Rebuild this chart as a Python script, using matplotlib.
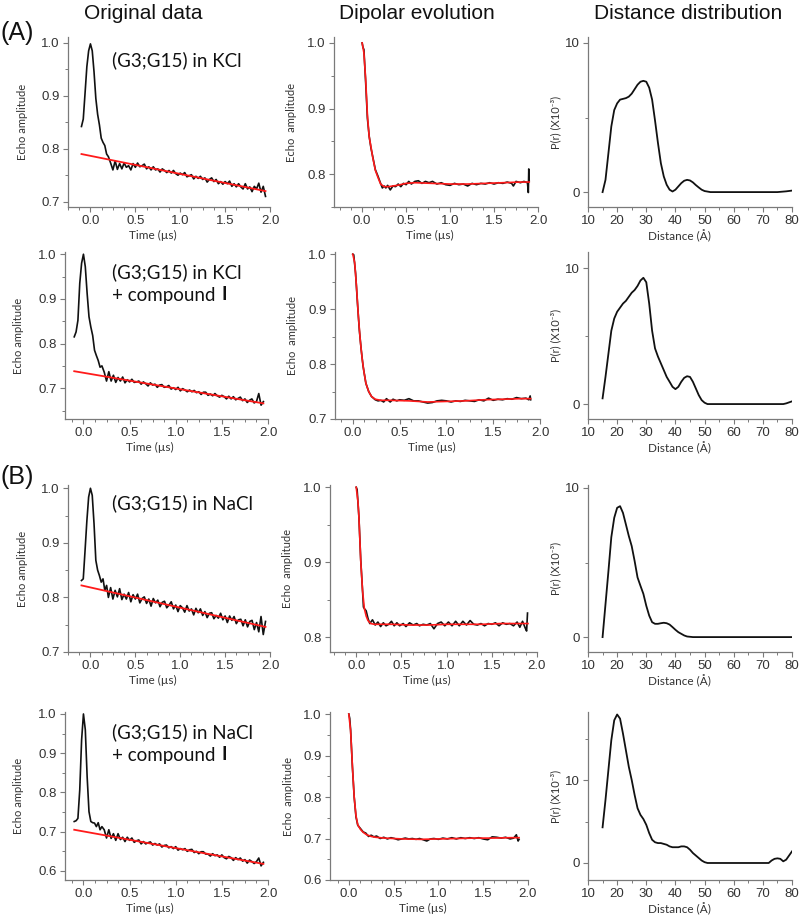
import numpy as np
import matplotlib
matplotlib.use('Agg')
import matplotlib.pyplot as plt
from matplotlib.ticker import MultipleLocator, AutoMinorLocator

plt.rcParams['font.family'] = ['Liberation Sans', 'DejaVu Sans']

# ---- original data: echo peak part (t = -0.10 .. 0.20, step 0.02) ----
peak_A1 = [0.842, 0.856, 0.905, 0.955, 0.985, 0.998, 0.985, 0.945, 0.895, 0.865, 0.845, 0.820, 0.812, 0.806, 0.790, 0.785]
peak_A2 = [0.815, 0.826, 0.852, 0.935, 0.980, 1.000, 0.972, 0.912, 0.860, 0.837, 0.818, 0.785, 0.773, 0.762, 0.747, 0.750]
peak_B1 = [0.831, 0.834, 0.886, 0.940, 0.984, 1.000, 0.987, 0.935, 0.868, 0.850, 0.840, 0.828, 0.834, 0.813, 0.822, 0.800]
peak_B2 = [0.726, 0.728, 0.734, 0.807, 0.934, 1.000, 0.960, 0.840, 0.751, 0.726, 0.723, 0.722, 0.713, 0.723, 0.705, 0.713]

# ---- original data: tail part (t = 0.225 .. 1.95, step 0.025) ----
tail_A1 = [0.773, 0.760, 0.777, 0.761, 0.772, 0.762, 0.773, 0.765, 0.768, 0.760,
           0.772, 0.765, 0.773, 0.766, 0.768, 0.771, 0.762, 0.766, 0.760, 0.766,
           0.760, 0.762, 0.756, 0.762, 0.759, 0.755, 0.759, 0.754, 0.759, 0.753,
           0.750, 0.754, 0.751, 0.755, 0.747, 0.749, 0.751, 0.743, 0.748, 0.744,
           0.748, 0.742, 0.745, 0.737, 0.742, 0.745, 0.738, 0.742, 0.734, 0.738,
           0.733, 0.738, 0.734, 0.739, 0.729, 0.734, 0.728, 0.734, 0.728, 0.724,
           0.734, 0.724, 0.728, 0.719, 0.729, 0.724, 0.735, 0.718, 0.729, 0.710]
tail_A2 = [0.736, 0.716, 0.737, 0.716, 0.729, 0.713, 0.724, 0.716, 0.725, 0.712,
           0.719, 0.714, 0.720, 0.713, 0.714, 0.716, 0.709, 0.714, 0.710, 0.705,
           0.712, 0.707, 0.709, 0.702, 0.707, 0.708, 0.702, 0.703, 0.706, 0.698,
           0.701, 0.697, 0.702, 0.694, 0.699, 0.696, 0.692, 0.696, 0.692, 0.695,
           0.690, 0.692, 0.686, 0.691, 0.691, 0.684, 0.687, 0.683, 0.688, 0.683,
           0.680, 0.684, 0.681, 0.676, 0.682, 0.676, 0.681, 0.674, 0.677, 0.680,
           0.672, 0.676, 0.668, 0.673, 0.676, 0.667, 0.670, 0.688, 0.662, 0.670]
tail_B1 = [0.818, 0.797, 0.813, 0.801, 0.816, 0.796, 0.806, 0.797, 0.809, 0.792,
           0.805, 0.797, 0.806, 0.790, 0.798, 0.801, 0.789, 0.797, 0.784, 0.798,
           0.790, 0.795, 0.783, 0.791, 0.793, 0.781, 0.786, 0.792, 0.779, 0.786,
           0.774, 0.785, 0.781, 0.773, 0.785, 0.775, 0.779, 0.768, 0.780, 0.772,
           0.779, 0.767, 0.774, 0.763, 0.771, 0.772, 0.761, 0.767, 0.762, 0.771,
           0.759, 0.766, 0.754, 0.766, 0.758, 0.765, 0.752, 0.759, 0.760, 0.748,
           0.759, 0.746, 0.756, 0.758, 0.741, 0.754, 0.737, 0.765, 0.732, 0.756]
tail_B2 = [0.705, 0.684, 0.705, 0.683, 0.695, 0.678, 0.695, 0.680, 0.686, 0.675,
           0.686, 0.678, 0.684, 0.673, 0.677, 0.679, 0.669, 0.675, 0.669, 0.672,
           0.674, 0.666, 0.670, 0.666, 0.669, 0.661, 0.665, 0.666, 0.659, 0.662,
           0.657, 0.662, 0.653, 0.657, 0.654, 0.657, 0.650, 0.654, 0.655, 0.647,
           0.650, 0.644, 0.649, 0.649, 0.643, 0.643, 0.638, 0.644, 0.639, 0.641,
           0.635, 0.641, 0.634, 0.631, 0.637, 0.634, 0.627, 0.634, 0.629, 0.633,
           0.625, 0.629, 0.620, 0.628, 0.624, 0.619, 0.624, 0.633, 0.613, 0.622]

# background fit lines (start, end) at t = -0.1 and 1.95
bg_t = [-0.1, 1.95]
bg_A1 = [0.790, 0.720]
bg_A2 = [0.738, 0.666]
bg_B1 = [0.822, 0.746]
bg_B2 = [0.705, 0.618]

# ---- dipolar evolution (t, value) ----
dip_A1 = [(0.0, 1.0), (0.01, 0.993), (0.02, 0.99), (0.04, 0.94), (0.06, 0.885), (0.08, 0.858), (0.10, 0.84),
          (0.12, 0.827), (0.15, 0.807), (0.18, 0.797), (0.21, 0.786), (0.23, 0.779), (0.25, 0.782), (0.27, 0.779),
          (0.29, 0.783), (0.32, 0.776), (0.35, 0.782), (0.38, 0.781), (0.41, 0.785), (0.44, 0.781), (0.47, 0.786),
          (0.50, 0.784), (0.53, 0.789), (0.56, 0.785), (0.60, 0.789), (0.64, 0.790), (0.68, 0.786), (0.72, 0.789),
          (0.76, 0.787), (0.80, 0.789), (0.85, 0.785), (0.90, 0.787), (0.95, 0.784), (1.00, 0.783), (1.05, 0.786),
          (1.10, 0.784), (1.15, 0.785), (1.20, 0.782), (1.25, 0.786), (1.30, 0.784), (1.35, 0.786), (1.40, 0.785),
          (1.45, 0.787), (1.50, 0.785), (1.55, 0.787), (1.60, 0.786), (1.65, 0.788), (1.70, 0.786), (1.72, 0.782),
          (1.75, 0.789), (1.80, 0.787), (1.84, 0.789), (1.88, 0.787), (1.89, 0.772), (1.895, 0.808), (1.90, 0.790)]
fit_A1 = [(0.0, 1.0), (0.02, 0.985), (0.04, 0.945), (0.06, 0.89), (0.08, 0.857), (0.10, 0.842), (0.12, 0.826),
          (0.15, 0.806), (0.18, 0.795), (0.21, 0.785), (0.25, 0.781), (0.30, 0.781), (0.40, 0.783), (0.50, 0.786),
          (0.60, 0.787), (0.80, 0.786), (1.00, 0.785), (1.20, 0.785), (1.40, 0.786), (1.60, 0.787), (1.80, 0.788),
          (1.90, 0.788)]
dip_A2 = [(0.0, 1.0), (0.01, 0.999), (0.03, 0.965), (0.05, 0.911), (0.07, 0.862), (0.09, 0.826), (0.11, 0.796),
          (0.14, 0.765), (0.17, 0.750), (0.20, 0.741), (0.24, 0.735), (0.27, 0.733), (0.30, 0.734), (0.33, 0.731),
          (0.36, 0.737), (0.40, 0.731), (0.43, 0.736), (0.47, 0.733), (0.50, 0.735), (0.55, 0.734), (0.60, 0.737),
          (0.65, 0.733), (0.70, 0.733), (0.75, 0.731), (0.80, 0.729), (0.85, 0.730), (0.90, 0.733), (0.95, 0.734),
          (1.00, 0.733), (1.05, 0.731), (1.10, 0.733), (1.15, 0.732), (1.20, 0.734), (1.25, 0.733), (1.30, 0.732),
          (1.35, 0.735), (1.40, 0.733), (1.45, 0.738), (1.50, 0.734), (1.55, 0.736), (1.60, 0.735), (1.65, 0.737),
          (1.70, 0.736), (1.75, 0.739), (1.80, 0.737), (1.85, 0.738), (1.88, 0.735), (1.895, 0.742), (1.90, 0.735)]
fit_A2 = [(0.0, 1.0), (0.02, 0.985), (0.04, 0.94), (0.06, 0.886), (0.08, 0.843), (0.10, 0.81), (0.12, 0.785),
          (0.14, 0.765), (0.17, 0.750), (0.20, 0.741), (0.24, 0.736), (0.30, 0.734), (0.40, 0.734), (0.60, 0.733),
          (0.80, 0.731), (1.00, 0.732), (1.20, 0.733), (1.40, 0.735), (1.60, 0.736), (1.80, 0.737), (1.90, 0.737)]
dip_B1 = [(0.0, 1.0), (0.01, 0.997), (0.03, 0.96), (0.05, 0.903), (0.07, 0.862), (0.08, 0.84), (0.09, 0.838),
          (0.11, 0.835), (0.13, 0.825), (0.15, 0.818), (0.18, 0.823), (0.21, 0.816), (0.24, 0.820), (0.27, 0.814),
          (0.30, 0.819), (0.33, 0.815), (0.36, 0.817), (0.39, 0.821), (0.42, 0.815), (0.45, 0.819), (0.48, 0.815),
          (0.52, 0.818), (0.55, 0.814), (0.59, 0.819), (0.63, 0.816), (0.67, 0.818), (0.70, 0.815), (0.74, 0.817),
          (0.78, 0.816), (0.82, 0.818), (0.86, 0.811), (0.90, 0.818), (0.94, 0.820), (0.98, 0.815), (1.02, 0.820),
          (1.06, 0.815), (1.10, 0.821), (1.14, 0.815), (1.18, 0.821), (1.22, 0.816), (1.26, 0.822), (1.30, 0.817),
          (1.34, 0.816), (1.38, 0.818), (1.42, 0.815), (1.46, 0.818), (1.50, 0.817), (1.54, 0.819), (1.58, 0.815),
          (1.62, 0.819), (1.66, 0.817), (1.70, 0.818), (1.74, 0.815), (1.78, 0.820), (1.81, 0.813), (1.84, 0.821),
          (1.87, 0.812), (1.885, 0.808), (1.895, 0.832)]
fit_B1 = [(0.0, 1.0), (0.02, 0.98), (0.03, 0.96), (0.05, 0.902), (0.07, 0.862), (0.09, 0.838), (0.11, 0.828),
          (0.13, 0.822), (0.16, 0.818), (0.20, 0.817), (0.40, 0.817), (0.60, 0.816), (0.80, 0.816), (1.00, 0.817),
          (1.20, 0.817), (1.40, 0.817), (1.60, 0.818), (1.80, 0.818), (1.90, 0.818)]
dip_B2 = [(0.0, 1.0), (0.01, 0.99), (0.02, 0.962), (0.04, 0.873), (0.06, 0.80), (0.08, 0.752), (0.10, 0.732),
          (0.13, 0.724), (0.16, 0.716), (0.19, 0.713), (0.22, 0.705), (0.25, 0.708), (0.28, 0.704), (0.31, 0.706),
          (0.35, 0.700), (0.39, 0.703), (0.43, 0.699), (0.47, 0.702), (0.51, 0.700), (0.55, 0.697), (0.59, 0.699),
          (0.63, 0.701), (0.67, 0.699), (0.71, 0.700), (0.75, 0.698), (0.79, 0.700), (0.83, 0.697), (0.87, 0.694),
          (0.91, 0.699), (0.95, 0.700), (1.00, 0.698), (1.05, 0.701), (1.10, 0.699), (1.15, 0.702), (1.20, 0.699),
          (1.25, 0.702), (1.30, 0.700), (1.35, 0.702), (1.40, 0.700), (1.45, 0.702), (1.50, 0.699), (1.55, 0.697),
          (1.60, 0.704), (1.65, 0.703), (1.70, 0.701), (1.75, 0.703), (1.80, 0.699), (1.84, 0.701), (1.87, 0.709),
          (1.89, 0.694), (1.90, 0.698)]
fit_B2 = [(0.0, 1.0), (0.02, 0.96), (0.04, 0.875), (0.06, 0.80), (0.08, 0.755), (0.10, 0.733), (0.13, 0.722),
          (0.16, 0.715), (0.20, 0.709), (0.25, 0.705), (0.30, 0.703), (0.40, 0.701), (0.60, 0.699), (0.80, 0.698),
          (1.00, 0.699), (1.20, 0.700), (1.40, 0.701), (1.60, 0.701), (1.80, 0.702), (1.90, 0.702)]

# ---- distance distributions (r in A, P(r) x10^-3) ----
pr_A1 = [(15, 0.0), (16, 0.82), (17, 2.6), (18, 4.4), (19, 5.5), (20, 5.95), (21, 6.2), (22, 6.25), (23, 6.3),
         (24, 6.4), (25, 6.6), (26, 6.9), (27, 7.2), (28, 7.4), (29, 7.46), (30, 7.4), (31, 7.0), (32, 6.2),
         (33, 4.8), (34, 3.3), (35, 1.94), (36, 1.05), (37, 0.49), (38, 0.16), (39, 0.04), (40, 0.16), (41, 0.38),
         (42, 0.6), (43, 0.76), (44, 0.82), (45, 0.78), (46, 0.65), (47, 0.47), (48, 0.31), (49, 0.16), (50, 0.07),
         (52, 0.0), (75, 0.0), (78, 0.05), (80, 0.1)]
pr_A2 = [(15, 0.42), (16, 2.0), (17, 3.7), (18, 5.4), (19, 6.3), (20, 6.8), (21, 7.1), (22, 7.4), (23, 7.6),
         (24, 7.9), (25, 8.2), (26, 8.4), (27, 8.7), (28, 9.1), (29, 9.3), (30, 8.97), (31, 7.4), (32, 5.4),
         (33, 4.1), (34, 3.5), (35, 3.0), (36, 2.5), (37, 2.0), (38, 1.64), (39, 1.27), (40, 1.1), (41, 1.27),
         (42, 1.64), (43, 1.93), (44, 2.05), (45, 2.0), (46, 1.64), (47, 1.15), (48, 0.66), (49, 0.29), (50, 0.1),
         (51, 0.0), (77, 0.0), (78, 0.05), (80, 0.2)]
pr_B1 = [(15, 0.0), (16, 2.2), (17, 4.4), (18, 6.7), (19, 8.0), (20, 8.67), (21, 8.78), (22, 8.33), (23, 7.56),
         (24, 6.78), (25, 6.1), (26, 5.1), (27, 4.0), (28, 3.44), (29, 2.9), (30, 2.1), (31, 1.44), (32, 1.0),
         (33, 0.89), (34, 0.89), (35, 0.93), (36, 0.96), (37, 0.93), (38, 0.84), (39, 0.67), (40, 0.49), (41, 0.33),
         (42, 0.22), (43, 0.11), (44, 0.04), (46, 0.0), (80, 0.0)]
pr_B2 = [(15, 4.3), (16, 7.6), (17, 11.2), (18, 14.8), (19, 17.2), (20, 17.9), (21, 17.4), (22, 15.6), (23, 13.6),
         (24, 11.6), (25, 10.0), (26, 8.2), (27, 6.6), (28, 5.8), (29, 5.3), (30, 4.6), (31, 3.6), (32, 2.8),
         (33, 2.5), (34, 2.4), (35, 2.4), (36, 2.3), (37, 2.2), (38, 2.0), (39, 1.9), (40, 1.9), (41, 1.9), (42, 2.0),
         (43, 2.0), (44, 1.9), (45, 1.6), (46, 1.2), (47, 0.9), (48, 0.6), (49, 0.3), (50, 0.1), (51, 0.0), (72, 0.0),
         (73, 0.3), (74, 0.5), (75, 0.56), (76, 0.5), (77, 0.2), (78, 0.4), (79, 0.9), (80, 1.4)]

sample_lines = [("(G3;G15) in KCl", False), ("(G3;G15) in KCl", True),
                ("(G3;G15) in NaCl", False), ("(G3;G15) in NaCl", True)]

peaks = [peak_A1, peak_A2, peak_B1, peak_B2]
tails = [tail_A1, tail_A2, tail_B1, tail_B2]
bgs = [bg_A1, bg_A2, bg_B1, bg_B2]
dips = [dip_A1, dip_A2, dip_B1, dip_B2]
fits = [fit_A1, fit_A2, fit_B1, fit_B2]
prs = [pr_A1, pr_A2, pr_B1, pr_B2]

#---layout (pixels)-------------------------------------------------------#
rows_px = [(37, 207), (252, 419), (485, 652), (712, 880)]
left_px = [(68, 270), (65, 268), (68, 270), (65, 268)]
mid_px = [(334, 538), (335, 540), (330, 537), (330, 528)]
right_px = (588, 792)
left_xlim = [(-0.25, 2.0), (-0.2, 2.0), (-0.25, 2.0), (-0.2, 2.0)]
mid_xlim = [(-0.32, 2.0), (-0.19, 2.0), (-0.29, 2.0), (-0.21, 2.0)]
left_ylim = [(0.69, 1.011), (0.631, 1.005), (0.7, 1.006), (0.577, 1.005)]
mid_ylim = [(0.75, 1.009), (0.7, 1.004), (0.78, 1.003), (0.6, 1.005)]
right_ylim = [(-1.0, 10.4), (-1.1, 11.2), (-1.0, 10.2), (-2.05, 18.2)]
note_dy = [23, 20, 18, 20]

W, H = 800, 917
fig = plt.figure(figsize=(W / 100, H / 100), dpi=100)

AXC = '#7a7a7a'
TXT = '#333333'
LAB = ['Lato', 'DejaVu Sans']
XLY = -0.135


def add_ax(x0, x1, y0, y1):
    return fig.add_axes([x0 / W, 1 - y1 / H, (x1 - x0) / W, (y1 - y0) / H])


def style(ax, xmaj, xminor, ymaj, yminor):
    for s in ['top', 'right']:
        ax.spines[s].set_visible(False)
    for s in ['left', 'bottom']:
        ax.spines[s].set_color(AXC)
        ax.spines[s].set_linewidth(0.9)
    ax.xaxis.set_major_locator(MultipleLocator(xmaj))
    ax.xaxis.set_minor_locator(AutoMinorLocator(xminor))
    ax.yaxis.set_major_locator(MultipleLocator(ymaj))
    ax.yaxis.set_minor_locator(AutoMinorLocator(yminor))
    ax.tick_params(which='major', direction='out', length=3.5, width=0.8, color=AXC,
                   labelcolor=TXT, labelsize=9.5, pad=2.5)
    ax.tick_params(which='minor', direction='out', length=2, width=0.7, color=AXC)


t_peak = np.linspace(-0.1, 0.2, 16)

for i in range(4):
    ytop, ybot = rows_px[i]
    hpx = ybot - ytop

    # original data
    ax = add_ax(left_px[i][0], left_px[i][1], ytop, ybot)
    t_tail = np.linspace(0.225, 1.95, len(tails[i]))
    t_all = np.concatenate([t_peak, t_tail])
    y_all = np.concatenate([peaks[i], tails[i]])
    ax.plot(t_all, y_all, color='#111111', lw=1.2)
    ax.plot(bg_t, bgs[i], color='#ff1a1a', lw=1.3)
    ax.set_xlim(*left_xlim[i])
    ax.set_ylim(*left_ylim[i])
    style(ax, 0.5, 4, 0.1, 2)
    ax.yaxis.set_major_formatter(plt.FormatStrFormatter('%.1f'))
    ax.xaxis.set_major_formatter(plt.FormatStrFormatter('%.1f'))
    ax.set_ylabel('Echo amplitude', family=LAB, fontsize=8, color=TXT)
    ax.yaxis.set_label_coords(-0.20, 0.5)
    ax.set_xlabel('Time (µs)', family=LAB, fontsize=8.5, color=TXT)
    ax.xaxis.set_label_coords(0.42, XLY)
    txt, compound = sample_lines[i]
    ax0 = left_px[i][0]
    fx = (112 - ax0) / (left_px[i][1] - ax0)
    ax.text(fx, 1 - note_dy[i] / hpx, txt, transform=ax.transAxes,
            family=LAB, fontsize=13.5, color='#111111', va='center', ha='left')
    if compound:
        t2 = ax.text(fx, 1 - (note_dy[i] + 23) / hpx, '+ compound', transform=ax.transAxes,
                     family=LAB, fontsize=13.5, color='#111111', va='center', ha='left')
        ax.annotate('I', xy=(1, 0), xycoords=t2, xytext=(4, 0), textcoords='offset points',
                    family=LAB, fontsize=13.5, fontweight='bold', color='#111111', va='bottom', ha='left')

    # dipolar evolution
    ax = add_ax(mid_px[i][0], mid_px[i][1], ytop, ybot)
    dt, dv = zip(*dips[i])
    ft, fv = zip(*fits[i])
    ax.plot(dt, dv, color='#111111', lw=1.2)
    ax.plot(ft, fv, color='#ff1a1a', lw=1.2)
    ax.set_xlim(*mid_xlim[i])
    ax.set_ylim(*mid_ylim[i])
    style(ax, 0.5, 4, 0.1, 2)
    ax.yaxis.set_major_formatter(plt.FormatStrFormatter('%.1f'))
    ax.xaxis.set_major_formatter(plt.FormatStrFormatter('%.1f'))
    ax.set_ylabel('Echo  amplitude', family=LAB, fontsize=8, color=TXT)
    ax.yaxis.set_label_coords(-0.18, 0.5)
    ax.set_xlabel('Time (µs)', family=LAB, fontsize=8.5, color=TXT)
    ax.xaxis.set_label_coords(0.47, XLY)

    # distance distribution
    ax = add_ax(right_px[0], right_px[1], ytop, ybot)
    r, p = zip(*prs[i])
    ax.plot(r, p, color='#111111', lw=1.3)
    ax.set_xlim(10, 80)
    ax.set_ylim(*right_ylim[i])
    style(ax, 10, 2, 10, 2)
    ax.set_ylabel('P(r) (X10⁻³)', family=LAB, fontsize=8, color=TXT)
    ax.yaxis.set_label_coords(-0.13, 0.5)
    ax.set_xlabel('Distance (Å)', family=LAB, fontsize=8.5, color=TXT)
    ax.xaxis.set_label_coords(0.45, XLY)

# column titles and panel letters
fig.text(143 / W, 1 - 19 / H, 'Original data', fontsize=15, ha='center', va='baseline', color='#111111')
fig.text(417 / W, 1 - 19 / H, 'Dipolar evolution', fontsize=15, ha='center', va='baseline', color='#111111')
fig.text(688 / W, 1 - 19 / H, 'Distance distribution', fontsize=15, ha='center', va='baseline', color='#111111')
fig.text(0 / W, 1 - 33 / H, '(A)', fontsize=18, ha='left', va='center', color='#111111')
fig.text(0 / W, 1 - 477 / H, '(B)', fontsize=18, ha='left', va='center', color='#111111')

fig.savefig('out.png', dpi=100)
